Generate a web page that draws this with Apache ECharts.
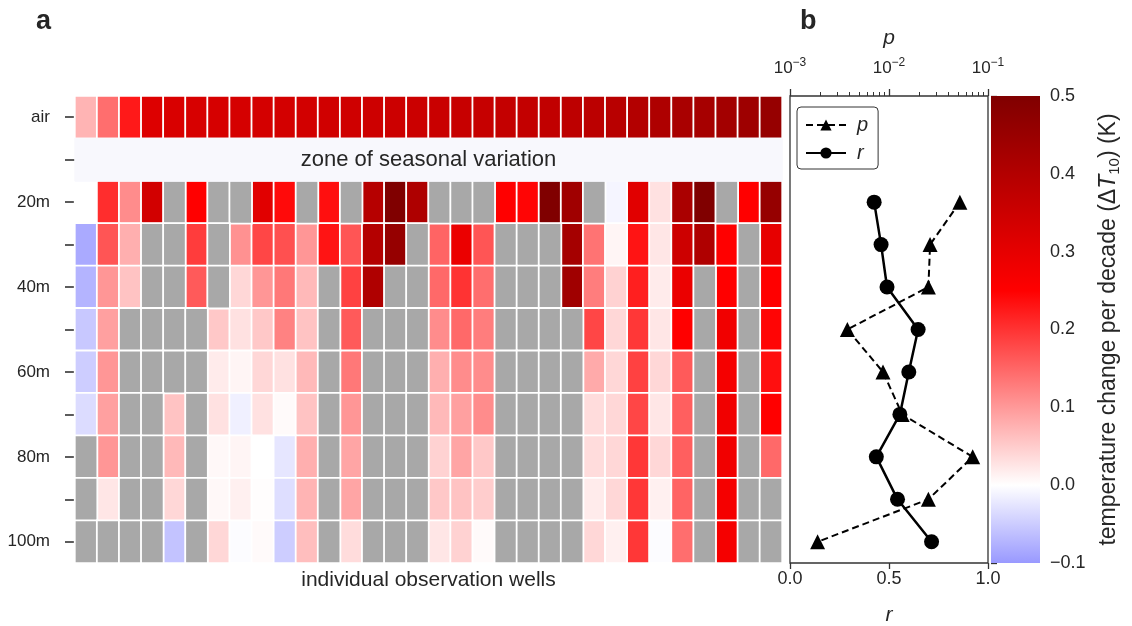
<!DOCTYPE html>
<html>
<head>
<meta charset="utf-8">
<script src="https://cdn.jsdelivr.net/npm/echarts@6/dist/echarts.min.js"></script>
<style>
  html, body { margin: 0; padding: 0; background: #fff; }
  #chart { width: 1132px; height: 626px; }
</style>
</head>
<body>
<div id="chart"></div>
<script>
// ---- data -------------------------------------------------------------
const wells = ['w01','w02','w03','w04','w05','w06','w07','w08','w09','w10','w11','w12','w13','w14','w15','w16',
               'w17','w18','w19','w20','w21','w22','w23','w24','w25','w26','w27','w28','w29','w30','w31','w32'];
const rows = ['air', 'seasonal', '20m', '30m', '40m', '50m', '60m', '70m', '80m', '90m', '100m'];
const rowTickLabels = ['air', '', '20m', '', '40m', '', '60m', '', '80m', '', '100m'];
const zoneLabel = 'zone of seasonal variation';
const wellsLabel = 'individual observation wells';

// decadal temperature change (K), one value per well; null = no data
const airTrend = [0.074, 0.142, 0.225, 0.318, 0.325, 0.328, 0.33, 0.332, 0.334, 0.336, 0.338, 0.342, 0.345, 0.348, 0.35, 0.352,
                  0.356, 0.36, 0.362, 0.365, 0.368, 0.372, 0.38, 0.385, 0.39, 0.4, 0.41, 0.42, 0.425, 0.43, 0.44, 0.455];
const t20m = [0, 0.206, 0.113, 0.338, null, 0.25, null, null, 0.309, 0.24, null, 0.235, null, 0.395, 0.5, 0.41,
              null, null, null, 0.25, 0.245, 0.5, 0.436, null, -0.01, 0.309, 0.029, 0.417, 0.5, null, 0.25, 0.456];
const t30m = [-0.083, 0.167, 0.078, null, null, 0.191, null, 0.108, 0.181, 0.172, 0.103, 0.23, 0.167, 0.397, 0.456, null,
              0.152, 0.289, 0.167, null, null, null, 0.426, 0.137, 0.01, 0.23, 0.025, 0.348, 0.407, 0.25, null, 0.299];
const t40m = [-0.074, 0.103, 0.059, null, null, 0.162, null, 0.039, 0.103, 0.132, 0.069, null, 0.186, 0.407, null, null,
              0.147, 0.2, 0.142, null, null, null, 0.436, 0.127, 0.044, 0.22, 0.02, 0.289, null, 0.25, null, 0.25];
const t50m = [-0.054, 0.093, null, null, null, null, 0.054, 0.029, 0.054, 0.123, 0.059, null, 0.162, null, null, null,
              0.113, 0.147, 0.127, null, null, null, null, 0.181, 0.039, 0.196, 0.025, 0.25, null, 0.279, null, 0.245];
const t60m = [-0.049, 0.103, null, null, null, null, 0.02, 0.01, 0.039, 0.029, 0.069, null, 0.132, null, null, null,
              0.078, 0.113, 0.113, null, null, null, null, 0.083, 0.039, 0.186, 0.039, 0.162, null, 0.27, null, 0.235];
const t70m = [-0.034, 0.093, null, null, 0.059, null, 0.029, -0.015, 0.029, 0.005, 0.059, null, 0.103, null, null, null,
              0.069, 0.093, 0.113, null, null, null, null, 0.034, 0.039, 0.181, 0.025, 0.157, null, 0.279, null, 0.25];
const t80m = [null, 0.103, null, null, 0.069, null, 0.007, 0.01, 0, -0.025, 0.078, null, 0.088, null, null, null,
              0.044, 0.088, 0.054, null, null, null, null, 0.034, 0.039, 0.196, 0.039, 0.157, null, 0.279, null, 0.147];
const t90m = [null, 0.025, null, null, 0.039, null, 0.007, 0.015, 0.002, -0.032, 0.074, null, 0.088, null, null, null,
              0.054, 0.059, 0.049, null, null, null, null, 0.02, 0.039, 0.196, 0.015, 0.152, null, 0.27, null, null];
const t100m = [null, null, null, null, -0.059, null, 0.039, -0.003, 0.005, -0.049, 0.064, null, 0.034, null, null, null,
               0.025, 0.044, 0.005, null, null, null, null, 0.039, 0.015, 0.196, -0.003, 0.142, null, 0.27, null, null];

// correlation between air and ground trends per depth (20m ... 100m)
const depthRows = ['20m', '30m', '40m', '50m', '60m', '70m', '80m', '90m', '100m'];
const rValues = [0.425, 0.46, 0.49, 0.647, 0.60, 0.555, 0.436, 0.543, 0.715];
const pValues = [0.052, 0.026, 0.025, 0.0038, 0.0087, 0.0136, 0.070, 0.025, 0.0019];

// colour scale
const cbMin = -0.1, cbMax = 0.5, cbStep = 0.1;
const pMajorTicks = [0.001, 0.01, 0.1];
const pMinorTicks = [0.002, 0.003, 0.004, 0.005, 0.006, 0.007, 0.008, 0.009,
                     0.02, 0.03, 0.04, 0.05, 0.06, 0.07, 0.08, 0.09];

// ---- colour map (diverging blue-white-red, centred at zero) -----------
function seismic(v) {
  const t = (v + 0.5);            // symmetric range +-0.5 around zero
  const stops = [[0, [0, 0, 77]], [0.25, [0, 0, 255]], [0.5, [255, 255, 255]],
                 [0.75, [255, 0, 0]], [1, [128, 0, 0]]];
  for (let i = 1; i < stops.length; i++) {
    if (t <= stops[i][0] + 1e-9) {
      const [t0, c0] = stops[i - 1], [t1, c1] = stops[i];
      const f = Math.min(1, Math.max(0, (t - t0) / (t1 - t0)));
      const c = c0.map((x, k) => Math.round(x + (c1[k] - x) * f));
      return 'rgb(' + c.join(',') + ')';
    }
  }
  return 'rgb(128,0,0)';
}
const nSamples = Math.round((cbMax - cbMin) / 0.05);
const sampleVals = [];
for (let i = 0; i <= nSamples; i++) sampleVals.push(cbMin + i * 0.05);
const mapColors = sampleVals.map(seismic);
const cbGradientStops = sampleVals.map((v, i) => ({
  offset: Math.min(1, Math.max(0, 1 - i / nSamples)),
  color: seismic(v)
})).reverse();

// ---- build heatmap cells ----------------------------------------------
const gridRows = { 'air': airTrend, '20m': t20m, '30m': t30m, '40m': t40m, '50m': t50m,
                   '60m': t60m, '70m': t70m, '80m': t80m, '90m': t90m, '100m': t100m };
const valueCells = [], missingCells = [], zoneCells = [];
rows.forEach((row, ri) => {
  if (row === 'seasonal') {
    wells.forEach((w, ci) => zoneCells.push([ci, ri, 0]));
    return;
  }
  gridRows[row].forEach((v, ci) => {
    if (v === null) missingCells.push([ci, ri, 0]);
    else valueCells.push([ci, ri, v]);
  });
});

const FONT = 'Liberation Sans, Arial, sans-serif';
const INK = '#262626';

const chart = echarts.init(document.getElementById('chart'), null, { renderer: 'canvas' });

const option = {
  backgroundColor: '#ffffff',
  animation: false,
  textStyle: { fontFamily: FONT, color: INK },
  grid: [
    { left: 75, top: 96, width: 707, height: 467, outerBoundsMode: 'none' },
    { left: 790, top: 96, width: 198, height: 467, outerBoundsMode: 'none',
      show: true, borderColor: '#333', borderWidth: 1.3, backgroundColor: 'transparent' },
    { left: 991, top: 96, width: 49, height: 467, outerBoundsMode: 'none' }
  ],
  xAxis: [
    { type: 'category', gridIndex: 0, data: wells, axisLine: { show: false }, axisTick: { show: false },
      axisLabel: { show: false }, splitLine: { show: false },
      name: wellsLabel, nameLocation: 'middle', nameGap: 7,
      nameTextStyle: { fontSize: 21, color: INK, fontFamily: FONT, verticalAlign: 'top' } },
    { type: 'value', gridIndex: 1, position: 'bottom', min: 0, max: 1, interval: 0.5,
      axisLine: { show: false }, splitLine: { show: false },
      axisTick: { show: true, length: 6, lineStyle: { color: '#333', width: 1.3 } },
      axisLabel: { formatter: v => v.toFixed(1), fontSize: 18, color: INK, margin: 7, fontFamily: FONT },
      name: 'r', nameLocation: 'middle', nameGap: 42,
      nameTextStyle: { fontSize: 21, fontStyle: 'italic', color: INK, fontFamily: FONT } },
    { type: 'log', logBase: 10, gridIndex: 1, position: 'top', min: 0.001, max: 0.1,
      axisLine: { show: false }, splitLine: { show: false },
      axisTick: { show: true, length: 7, customValues: pMajorTicks, lineStyle: { color: '#333', width: 1.3 } },
      axisLabel: {
        customValues: pMajorTicks, margin: 16, color: INK, fontFamily: FONT,
        formatter: v => '{b|10}{s|\u2212' + Math.round(-Math.log10(v)) + '}',
        rich: { b: { fontSize: 17, lineHeight: 24, color: INK, fontFamily: FONT },
                s: { fontSize: 12, lineHeight: 14, padding: [0, 0, 10, 0], color: INK, fontFamily: FONT } }
      },
      name: 'p', nameLocation: 'middle', nameGap: 47,
      nameTextStyle: { fontSize: 21, fontStyle: 'italic', color: INK, fontFamily: FONT } },
    { type: 'log', logBase: 10, gridIndex: 1, position: 'top', min: 0.001, max: 0.1,
      axisLine: { show: false }, splitLine: { show: false }, axisLabel: { show: false },
      axisTick: { show: true, length: 4, customValues: pMinorTicks, lineStyle: { color: '#333', width: 1 } } },
    { type: 'value', gridIndex: 2, min: 0, max: 1, show: false }
  ],
  yAxis: [
    { type: 'category', gridIndex: 0, data: rows, inverse: true,
      axisLine: { show: false }, splitLine: { show: false },
      axisTick: { show: true, alignWithLabel: true, length: 10, lineStyle: { color: '#333', width: 1.6 } },
      axisLabel: { interval: 0, formatter: (v, i) => rowTickLabels[i], fontSize: 17, color: INK, margin: 25, fontFamily: FONT } },
    { type: 'category', gridIndex: 1, data: rows, inverse: true, show: false },
    { type: 'value', gridIndex: 2, position: 'right', min: cbMin, max: cbMax, interval: cbStep,
      axisLine: { show: false }, splitLine: { show: false },
      axisTick: { show: true, length: 6, lineStyle: { color: '#333', width: 1.3 } },
      axisLabel: { formatter: v => (v < -1e-9 ? '\u2212' : '') + Math.abs(v).toFixed(1), fontSize: 18, color: INK, margin: 10, fontFamily: FONT },
      name: '{t|temperature change per decade (\u0394}{i|T}{s|10}{t|) (K)}',
      nameLocation: 'middle', nameRotate: 90, nameGap: 55,
      nameTextStyle: {
        color: INK, fontFamily: FONT,
        rich: { t: { fontSize: 23, lineHeight: 28, color: INK, fontFamily: FONT },
                i: { fontSize: 23, lineHeight: 28, fontStyle: 'italic', color: INK, fontFamily: FONT },
                s: { fontSize: 15, lineHeight: 17, padding: [11, 0, 0, 0], color: INK, fontFamily: FONT } }
      } }
  ],
  visualMap: {
    type: 'continuous', show: false, seriesIndex: 0, dimension: 2,
    min: cbMin, max: cbMax, inRange: { color: mapColors }
  },
  legend: {
    data: ['p', 'r'], orient: 'vertical', left: 797, top: 107,
    padding: [8, 10, 6, 8], itemGap: 8, itemWidth: 40, itemHeight: 14,
    borderColor: '#333', borderWidth: 1, borderRadius: 4,
    textStyle: { fontSize: 20, fontStyle: 'italic', color: INK, fontFamily: FONT, padding: [0, 0, 0, 6] }
  },
  series: [
    { name: 'trend', type: 'heatmap', xAxisIndex: 0, yAxisIndex: 0, data: valueCells,
      itemStyle: { borderColor: '#ffffff', borderWidth: 1.8 }, emphasis: { disabled: true } },
    { name: 'missing', type: 'heatmap', xAxisIndex: 0, yAxisIndex: 0, data: missingCells,
      itemStyle: { color: '#a8a8a8', borderColor: '#ffffff', borderWidth: 1.8 }, emphasis: { disabled: true } },
    { name: 'seasonal', type: 'heatmap', xAxisIndex: 0, yAxisIndex: 0, data: zoneCells,
      itemStyle: { color: '#f8f8fd', borderColor: '#f8f8fd', borderWidth: 1 }, emphasis: { disabled: true } },
    { name: 'r', type: 'line', xAxisIndex: 1, yAxisIndex: 1,
      data: depthRows.map((d, i) => [rValues[i], d]),
      symbol: 'circle', symbolSize: 15, itemStyle: { color: '#000' },
      lineStyle: { color: '#000', width: 2.5, type: 'solid' }, z: 3 },
    { name: 'p', type: 'line', xAxisIndex: 2, yAxisIndex: 1,
      data: depthRows.map((d, i) => [pValues[i], d]),
      symbol: 'triangle', symbolSize: 15, itemStyle: { color: '#000' },
      lineStyle: { color: '#000', width: 2, type: [7, 4] }, z: 4 },
    { name: 'colorbar', type: 'custom', xAxisIndex: 4, yAxisIndex: 2,
      data: [[0, cbMin, 1, cbMax]], encode: { x: [0, 2], y: [1, 3] }, silent: true,
      renderItem: (params, api) => {
        const a = api.coord([api.value(0), api.value(3)]);
        const b = api.coord([api.value(2), api.value(1)]);
        return { type: 'rect', shape: { x: a[0], y: a[1], width: b[0] - a[0], height: b[1] - a[1] },
                 style: { fill: new echarts.graphic.LinearGradient(0, 0, 0, 1, cbGradientStops) } };
      } }
  ]
};
chart.setOption(option);

// panel letters and the label across the seasonal band
const zx = (chart.convertToPixel({ xAxisIndex: 0 }, wells[15]) + chart.convertToPixel({ xAxisIndex: 0 }, wells[16])) / 2;
const zy = chart.convertToPixel({ yAxisIndex: 0 }, 'seasonal');
chart.setOption({
  graphic: [
    { type: 'text', left: 36, top: 8, style: { text: 'a', fontSize: 27, fontWeight: 'bold', fill: INK, fontFamily: FONT } },
    { type: 'text', left: 800, top: 8, style: { text: 'b', fontSize: 27, fontWeight: 'bold', fill: INK, fontFamily: FONT } },
    { type: 'text', x: zx, y: zy, z: 10,
      style: { text: zoneLabel, fontSize: 22, fill: INK, fontFamily: FONT, align: 'center', verticalAlign: 'middle' } }
  ]
});
</script>
</body>
</html>
